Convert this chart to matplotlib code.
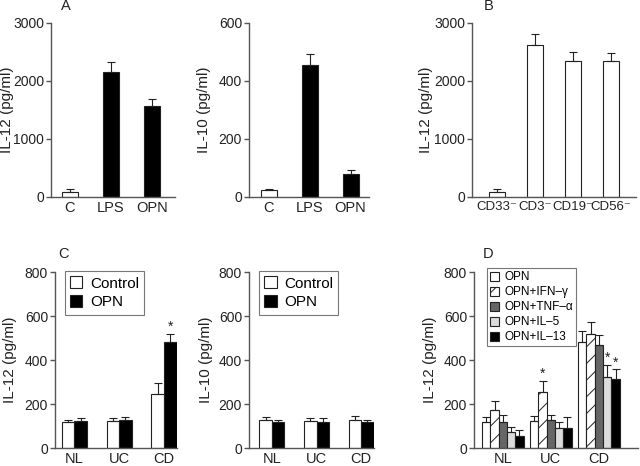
import matplotlib
matplotlib.use('Agg')
import matplotlib.pyplot as plt
import numpy as np
from matplotlib.patches import Patch

plt.rcParams['font.family'] = ['Liberation Sans', 'DejaVu Sans']
plt.rcParams['hatch.linewidth'] = 0.7

# Datos
cats_a = ['C', 'LPS', 'OPN']
il12_a = [90, 2150, 1570]
il12_a_err = [40, 180, 125]
il10_a = [23, 455, 80]
il10_a_err = [6, 38, 13]
fill_a = ['white', 'black', 'black']

cats_b = ['CD33⁻', 'CD3⁻', 'CD19⁻', 'CD56⁻']
il12_b = [80, 2615, 2350, 2350]
il12_b_err = [60, 190, 145, 130]

groups = ['NL', 'UC', 'CD']
series_c = ['Control', 'OPN']
il12_c = {'Control': [117, 123, 246], 'OPN': [123, 126, 481]}
il12_c_err = {'Control': [12, 12, 50], 'OPN': [13, 15, 36]}
il10_c = {'Control': [126, 123, 126], 'OPN': [117, 120, 117]}
il10_c_err = {'Control': [13, 12, 19], 'OPN': [12, 15, 12]}

series_d = ['OPN', 'OPN+IFN–γ', 'OPN+TNF–α', 'OPN+IL–5', 'OPN+IL–13']
il12_d = {'OPN': [118, 124, 482],
          'OPN+IFN–γ': [173, 255, 520],
          'OPN+TNF–α': [120, 129, 467],
          'OPN+IL–5': [73, 89, 323],
          'OPN+IL–13': [56, 89, 315]}
il12_d_err = {'OPN': [23, 23, 50],
              'OPN+IFN–γ': [41, 50, 53],
              'OPN+TNF–α': [30, 21, 45],
              'OPN+IL–5': [22, 31, 56],
              'OPN+IL–13': [26, 52, 44]}
stars_d = {'OPN+IFN–γ': [1], 'OPN+IL–5': [2], 'OPN+IL–13': [2]}

axis_col = '#555555'
txt_col = '#222222'


def estilo(ax, ymax, step, ylabel, lx):
    for s in ['top', 'right']:
        ax.spines[s].set_visible(False)
    for s in ['left', 'bottom']:
        ax.spines[s].set_color(axis_col)
        ax.spines[s].set_linewidth(1.0)
    ax.set_ylim(0, ymax)
    ax.set_yticks(np.arange(0, ymax + 1, step))
    ax.tick_params(axis='y', length=3.5, width=1.0, color=axis_col,
                   labelsize=10, labelcolor=txt_col, pad=1.5)
    ax.tick_params(axis='x', length=0, labelsize=10.5, labelcolor=txt_col, pad=3)
    ax.set_ylabel(ylabel, fontsize=11, color=txt_col)
    ax.yaxis.set_label_coords(lx, 0.5)


def letra(ax, txt, lx, ly):
    ax.text(lx, ly, txt, transform=ax.transAxes, fontsize=10.5,
            color=txt_col, va='bottom')


def barras(ax, x, vals, errs, width, colors, hatch=None):
    ax.bar(x, vals, width, color=colors, edgecolor=txt_col, linewidth=0.8,
           hatch=hatch, zorder=2)
    ax.errorbar(x, vals, yerr=[np.zeros(len(vals)), errs], fmt='none',
                ecolor=txt_col, elinewidth=0.8, capsize=3, capthick=0.8, zorder=3)


fig = plt.figure(figsize=(6.4, 4.66), dpi=100)

# ---- Fila superior ----
ax1 = fig.add_axes([0.0797, 0.5773, 0.1938, 0.3734])
x = np.arange(len(cats_a))
barras(ax1, x, il12_a, il12_a_err, 0.39, fill_a)
estilo(ax1, 3000, 1000, 'IL-12 (pg/ml)', -0.30)
ax1.set_xticks(x, cats_a)
ax1.set_xlim(-0.46, 2.56)
letra(ax1, 'A', 0.08, 1.06)

ax2 = fig.add_axes([0.389, 0.5773, 0.1875, 0.3734])
barras(ax2, x, il10_a, il10_a_err, 0.39, fill_a)
estilo(ax2, 600, 200, 'IL-10 (pg/ml)', -0.32)
ax2.set_xticks(x, cats_a)
ax2.set_xlim(-0.48, 2.45)

ax3 = fig.add_axes([0.7375, 0.5773, 0.256, 0.3734])
xb = np.arange(len(cats_b))
barras(ax3, xb, il12_b, il12_b_err, 0.42, 'white')
estilo(ax3, 3000, 1000, 'IL-12 (pg/ml)', -0.235)
ax3.set_xticks(xb, cats_b)
ax3.tick_params(axis='x', labelsize=9.5)
ax3.set_xlim(-0.66, 3.65)
letra(ax3, 'B', 0.07, 1.06)

# ---- Fila inferior ----
xg = np.arange(len(groups))
col_c = {'Control': 'white', 'OPN': 'black'}
w = 0.28


def panel_c(ax, data, err, ylabel, lx):
    for i, s in enumerate(series_c):
        barras(ax, xg + (i - 0.5) * w, data[s], err[s], w, col_c[s])
    estilo(ax, 800, 200, ylabel, lx)
    ax.set_xticks(xg, groups)
    handles = [Patch(facecolor=col_c[s], edgecolor=txt_col, linewidth=0.8) for s in series_c]
    leg = ax.legend(handles, series_c, loc='upper left', bbox_to_anchor=(0.08, 1.005),
                    fontsize=11, frameon=True, fancybox=False, handlelength=0.8,
                    handleheight=0.8, handletextpad=0.5, borderpad=0.35,
                    labelspacing=0.3, borderaxespad=0)
    leg.get_frame().set_edgecolor(axis_col)
    leg.get_frame().set_linewidth(0.8)


ax4 = fig.add_axes([0.0859, 0.0386, 0.1906, 0.3777])
panel_c(ax4, il12_c, il12_c_err, 'IL-12 (pg/ml)', -0.31)
ax4.set_xlim(-0.43, 2.29)
ax4.text(2 + 0.5 * w, il12_c['OPN'][2] + il12_c_err['OPN'][2] + 18, '*',
         ha='center', fontsize=10, color=txt_col)
letra(ax4, 'C', 0.025, 1.065)

ax5 = fig.add_axes([0.389, 0.0386, 0.195, 0.3777])
panel_c(ax5, il10_c, il10_c_err, 'IL-10 (pg/ml)', -0.29)
ax5.set_xlim(-0.51, 2.28)

ax6 = fig.add_axes([0.7406, 0.0386, 0.256, 0.3777])
col_d = {'OPN': 'white', 'OPN+IFN–γ': 'white', 'OPN+TNF–α': '#666666',
         'OPN+IL–5': '#dcdcdc', 'OPN+IL–13': 'black'}
hatch_d = {'OPN+IFN–γ': '//'}
wd = 0.173
for i, s in enumerate(series_d):
    xs = xg + (i - 2) * wd
    barras(ax6, xs, il12_d[s], il12_d_err[s], wd, col_d[s], hatch_d.get(s))
    for g in stars_d.get(s, []):
        ax6.text(xs[g], il12_d[s][g] + il12_d_err[s][g] + 12, '*',
                 ha='center', fontsize=10, color=txt_col)
estilo(ax6, 800, 200, 'IL-12 (pg/ml)', -0.225)
ax6.set_xticks(xg, groups)
ax6.set_xlim(-0.6, 2.81)
letra(ax6, 'D', 0.055, 1.065)
handles = [Patch(facecolor=col_d[s], edgecolor=txt_col, linewidth=0.8,
                 hatch=hatch_d.get(s)) for s in series_d]
leg = ax6.legend(handles, series_d, loc='upper left', bbox_to_anchor=(0.08, 1.02),
                 fontsize=8.5, frameon=True, fancybox=False, handlelength=0.8,
                 handleheight=0.8, handletextpad=0.4, borderpad=0.25,
                 labelspacing=0.25, borderaxespad=0)
leg.get_frame().set_edgecolor(axis_col)
leg.get_frame().set_linewidth(0.8)

fig.savefig('out.png', dpi=100)
